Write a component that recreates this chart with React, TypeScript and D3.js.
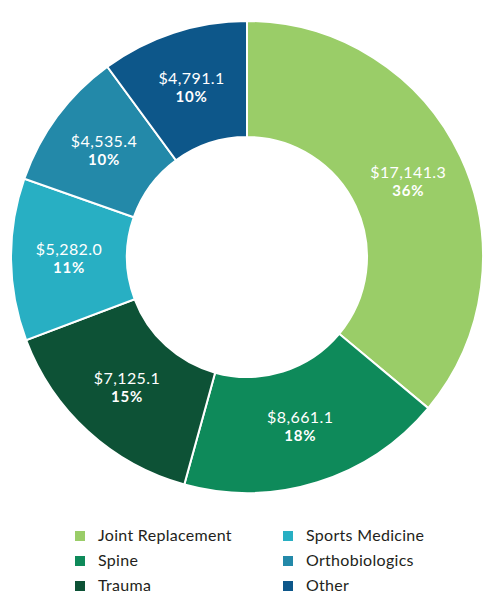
import * as d3 from "d3";
import React, { useEffect, useRef } from "react";

const categories = [
  "Joint Replacement",
  "Spine",
  "Trauma",
  "Sports Medicine",
  "Orthobiologics",
  "Other",
];
const values = [17141.3, 8661.1, 7125.1, 5282.0, 4535.4, 4791.1];
const percentLabels = ["36%", "18%", "15%", "11%", "10%", "10%"];
const colors = ["#9acd68", "#0e8a5a", "#0d5236", "#28afc3", "#2389a9", "#0d578a"];

const width = 494;
const height = 616;

const App: React.FC = () => {
  const ref = useRef<SVGSVGElement>(null);

  useEffect(() => {
    const svg = d3.select(ref.current);
    svg.selectAll("*").remove();

    const cx = 247;
    const cy = 257;
    const outer = 236;
    const inner = 120;

    const pie = d3
      .pie<number>()
      .sort(null)
      .value((d) => d);
    const arcs = pie(values);
    const arc = d3.arc<d3.PieArcDatum<number>>().innerRadius(inner).outerRadius(outer);

    const g = svg.append("g").attr("transform", `translate(${cx},${cy})`);

    g.selectAll("path")
      .data(arcs)
      .enter()
      .append("path")
      .attr("d", (d) => arc(d) as string)
      .attr("fill", (d, i) => colors[i])
      .attr("stroke", "#fff")
      .attr("stroke-width", 2);

    const labels = g
      .selectAll("g.label")
      .data(arcs)
      .enter()
      .append("g")
      .attr("class", "label")
      .attr("transform", (d) => `translate(${arc.centroid(d)})`);

    labels
      .append("text")
      .text((d) => "$" + d3.format(",.1f")(d.data))
      .attr("y", -4)
      .attr("text-anchor", "middle")
      .attr("fill", "#fff")
      .attr("font-family", "Lato, sans-serif")
      .attr("font-weight", 400)
      .attr("font-size", "16px")
      .attr("letter-spacing", "0.4px");

    labels
      .append("text")
      .text((d, i) => percentLabels[i])
      .attr("y", 14)
      .attr("text-anchor", "middle")
      .attr("fill", "#fff")
      .attr("font-family", "Lato, sans-serif")
      .attr("font-weight", 700)
      .attr("font-size", "15px")
      .attr("letter-spacing", "0.8px");

    // legend: two columns of three
    const legend = svg.append("g");
    const colX = [75, 283];
    const rowY = [541, 566, 591];
    categories.forEach((name, i) => {
      const col = Math.floor(i / 3);
      const row = i % 3;
      const item = legend
        .append("g")
        .attr("transform", `translate(${colX[col]},${rowY[row]})`);
      item
        .append("rect")
        .attr("x", 0)
        .attr("y", -10)
        .attr("width", 10)
        .attr("height", 10)
        .attr("fill", colors[i]);
      item
        .append("text")
        .text(name)
        .attr("x", 23)
        .attr("y", 0)
        .attr("fill", "#231f20")
        .attr("font-family", "Lato, sans-serif")
        .attr("font-size", "16px")
        .attr("letter-spacing", "0.3px");
    });
  }, []);

  return (
    <svg
      ref={ref}
      width={width}
      height={height}
      style={{ position: "absolute", left: 0, top: 0, background: "#fff" }}
    />
  );
};

export default App;
